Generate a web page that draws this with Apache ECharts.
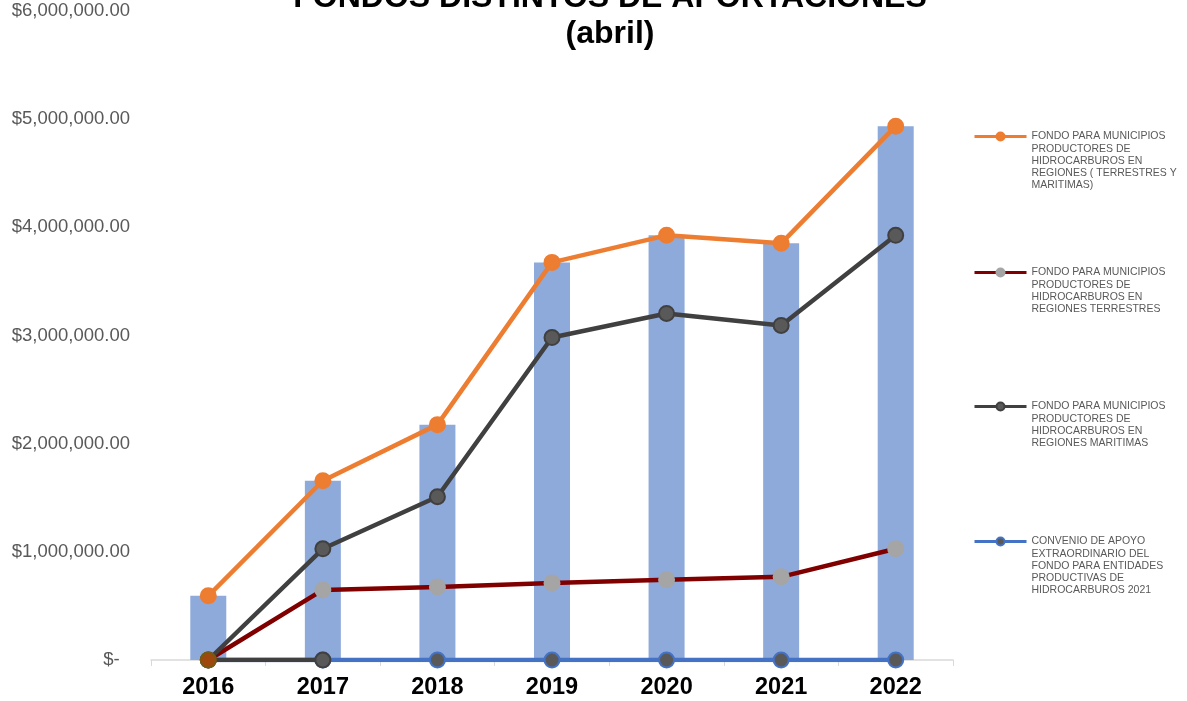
<!DOCTYPE html>
<html>
<head>
<meta charset="utf-8">
<script src="https://cdn.jsdelivr.net/npm/echarts@6/dist/echarts.min.js"></script>
<style>
  html, body { margin: 0; padding: 0; background: #fff; }
  #main { width: 1187px; height: 701px; }
</style>
</head>
<body>
<div id="main"></div>
<script>
// Years on the category axis
const years = ['2016', '2017', '2018', '2019', '2020', '2021', '2022'];

// Bars (total of the fund)
const totalBars = [593000, 1657000, 2176000, 3676000, 3926000, 3852000, 4935000];

// Line series
const regionesTerrMar = [593000, 1657000, 2176000, 3676000, 3926000, 3852000, 4935000];
const regionesTerrestres = [0, 648000, 676000, 713000, 741000, 769000, 1028000];
const regionesMaritimas = [0, 1028000, 1509000, 2981000, 3204000, 3093000, 3926000];
const convenioApoyo = [0, 0, 0, 0, 0, 0, 0];
// short dark segment drawn on the axis at the start (no legend entry)
const segmentoInicial = [0, 0, null, null, null, null, null];

const seriesNames = [
  'FONDO PARA MUNICIPIOS PRODUCTORES DE HIDROCARBUROS EN REGIONES ( TERRESTRES Y MARITIMAS)',
  'FONDO PARA MUNICIPIOS PRODUCTORES DE HIDROCARBUROS EN REGIONES TERRESTRES',
  'FONDO PARA MUNICIPIOS PRODUCTORES DE HIDROCARBUROS EN REGIONES MARITIMAS',
  'CONVENIO DE APOYO EXTRAORDINARIO DEL FONDO PARA ENTIDADES PRODUCTIVAS DE HIDROCARBUROS 2021'
];

const legendLines = [
  ['FONDO PARA MUNICIPIOS', 'PRODUCTORES DE', 'HIDROCARBUROS EN', 'REGIONES ( TERRESTRES Y', 'MARITIMAS)'],
  ['FONDO PARA MUNICIPIOS', 'PRODUCTORES DE', 'HIDROCARBUROS EN', 'REGIONES TERRESTRES'],
  ['FONDO PARA MUNICIPIOS', 'PRODUCTORES DE', 'HIDROCARBUROS EN', 'REGIONES MARITIMAS'],
  ['CONVENIO DE APOYO', 'EXTRAORDINARIO DEL', 'FONDO PARA ENTIDADES', 'PRODUCTIVAS DE', 'HIDROCARBUROS 2021']
];

// vertical position of each legend icon
const legendIconY = [136.5, 272.5, 406.5, 541.5];
const legendLineHeight = 12.2;

const fmtMoney = (v) => {
  if (v === 0) return '$-  ';
  return '$' + v.toLocaleString('en-US', { minimumFractionDigits: 2, maximumFractionDigits: 2 });
};

// one legend per item; blank lines in front keep the first text line level with the icon
const makeLegends = () =>
  seriesNames.map((name, i) => {
    const n = legendLines[i].length;
    const blanks = new Array(n - 1).fill(' ');
    return {
      data: [name],
      orient: 'vertical',
      left: 973,
      top: legendIconY[i] - ((2 * n - 1) * legendLineHeight) / 2,
      padding: 0,
      itemWidth: 52,
      itemHeight: 10,
      itemGap: 5,
      lineStyle: { width: 3 },
      formatter: () => blanks.concat(legendLines[i]).join('\n'),
      textStyle: {
        fontFamily: 'Liberation Sans, Arial, sans-serif',
        fontSize: 10.5,
        color: '#595959',
        lineHeight: legendLineHeight
      }
    };
  });

const lineSeries = (name, data, lineColor, fill, border, z) => ({
  name: name,
  type: 'line',
  data: data,
  z: z,
  symbol: 'circle',
  symbolSize: 15,
  lineStyle: { color: lineColor, width: 4.5 },
  itemStyle: { color: fill, borderColor: border, borderWidth: 2 },
  emphasis: { disabled: true }
});

const option = {
  animation: false,
  backgroundColor: '#ffffff',
  title: {
    text: 'FONDOS DISTINTOS DE APORTACIONES\n(abril)',
    left: 610,
    top: -20,
    padding: 0,
    textAlign: 'center',
    textStyle: {
      fontFamily: 'Liberation Sans, Arial, sans-serif',
      fontWeight: 'bold',
      fontSize: 32,
      lineHeight: 36,
      color: '#000000'
    }
  },
  legend: makeLegends(),
  grid: { left: 151, right: 234, top: 11, bottom: 41, containLabel: false },
  xAxis: {
    type: 'category',
    data: years,
    axisLine: { lineStyle: { color: '#d9d9d9', width: 1.5 } },
    axisTick: { show: true, length: 6, lineStyle: { color: '#d9d9d9' } },
    axisLabel: {
      margin: 16,
      fontFamily: 'Liberation Sans, Arial, sans-serif',
      fontWeight: 'bold',
      fontSize: 23.5,
      color: '#000000'
    }
  },
  yAxis: {
    type: 'value',
    min: 0,
    max: 6000000,
    interval: 1000000,
    axisLine: { show: false },
    axisTick: { show: false },
    splitLine: { show: false },
    axisLabel: {
      margin: 21,
      fontFamily: 'Liberation Sans, Arial, sans-serif',
      fontSize: 18.5,
      color: '#595959',
      formatter: fmtMoney
    }
  },
  series: [
    {
      name: 'TOTAL',
      type: 'bar',
      data: totalBars,
      barWidth: 36,
      z: 1,
      itemStyle: { color: '#8eaadb' },
      emphasis: { disabled: true }
    },
    lineSeries(seriesNames[3], convenioApoyo, '#4472c4', '#595959', '#4472c4', 2),
    lineSeries(seriesNames[1], regionesTerrestres, '#800000', '#a5a5a5', '#a5a5a5', 3),
    lineSeries(seriesNames[2], regionesMaritimas, '#404040', '#595959', '#404040', 4),
    lineSeries(seriesNames[0], regionesTerrMar, '#ed7d31', '#ed7d31', '#ed7d31', 5),
    Object.assign(
      lineSeries('', segmentoInicial.map((v, i) =>
        i === 0 ? { value: v, itemStyle: { color: '#9e480e', borderColor: '#7a5a10' } } : v
      ), '#404040', '#595959', '#404040', 6),
      { connectNulls: false }
    )
  ]
};

const chart = echarts.init(document.getElementById('main'));
chart.setOption(option);
</script>
</body>
</html>
